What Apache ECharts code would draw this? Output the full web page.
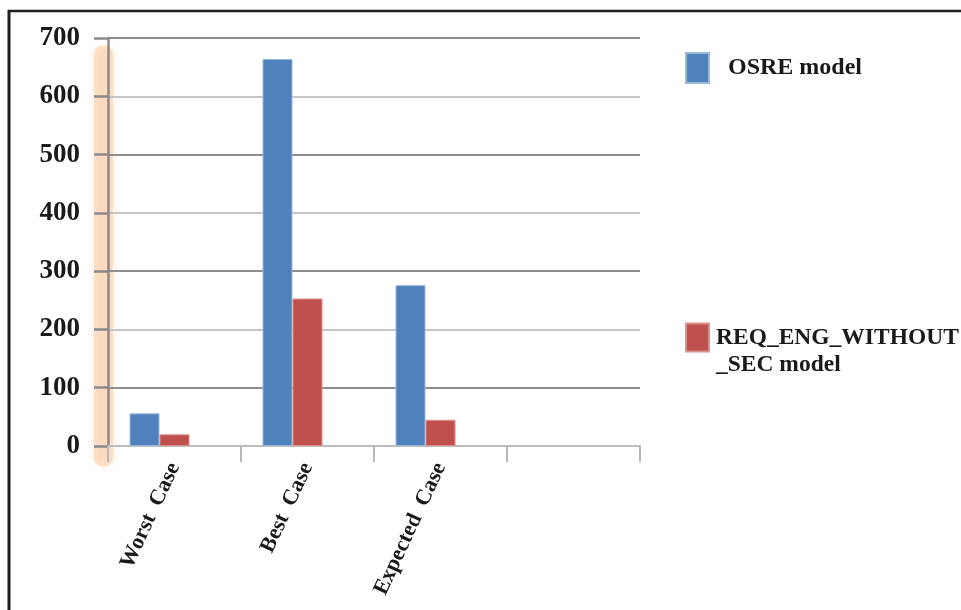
<!DOCTYPE html>
<html>
<head>
<meta charset="utf-8">
<script src="https://cdn.jsdelivr.net/npm/echarts@6/dist/echarts.min.js"></script>
<style>
html,body{margin:0;padding:0;background:#fff;}
#c{width:961px;height:610px;}
</style>
</head>
<body>
<div id="c"></div>
<script>
const categories = ['Worst  Case', 'Best  Case', 'Expected  Case', ''];
const seriesNames = ['OSRE model', 'REQ_ENG_WITHOUT\n_SEC model', 'Series3'];
const osreValues = [56, 664, 276, null];
const reqEngValues = [20, 253, 45, null];
const series3Values = [null, null, null, null];
const yTicks = [0, 100, 200, 300, 400, 500, 600, 700];

const FONT = 'Liberation Serif';
const chart = echarts.init(document.getElementById('c'));
chart.setOption({
  animation: false,
  backgroundColor: '#ffffff',
  textStyle: { fontFamily: FONT },
  graphic: [
    { type: 'rect', z: 0, silent: true,
      shape: { x: 94, y: 46, width: 19, height: 420, r: 8 },
      style: { fill: 'rgba(248,190,140,0.4)', shadowBlur: 8, shadowColor: 'rgba(248,180,120,0.6)' } },
    { type: 'line', z: 100, silent: true,
      shape: { x1: 8, y1: 11, x2: 961, y2: 11 },
      style: { stroke: '#1e1e1e', lineWidth: 2.5 } },
    { type: 'line', z: 100, silent: true,
      shape: { x1: 9, y1: 10, x2: 9, y2: 610 },
      style: { stroke: '#1e1e1e', lineWidth: 3 } }
  ],
  grid: { left: 108, right: 321, top: 38, bottom: 164, containLabel: false },
  legend: [
    { data: [seriesNames[0]], left: 685, top: 52, padding: 0, icon: 'rect',
      itemWidth: 23, itemHeight: 30, selectedMode: false,
      textStyle: { fontFamily: FONT, fontWeight: 'bold', fontSize: 24, color: '#1a1a1a', lineHeight: 27, padding: [0, 0, 0, 14] } },
    { data: [seriesNames[1]], left: 685, top: 297, padding: 0, icon: 'rect',
      itemWidth: 23, itemHeight: 28, selectedMode: false,
      formatter: function (n) { return '\n' + n; },
      textStyle: { fontFamily: FONT, fontWeight: 'bold', fontSize: 23.5, color: '#1a1a1a', lineHeight: 27, padding: [0, 0, 0, 2] } }
  ],
  xAxis: {
    type: 'category',
    data: categories,
    boundaryGap: true,
    axisLine: { lineStyle: { color: '#bdbdbd', width: 2 } },
    axisTick: { show: true, length: 16, lineStyle: { color: '#b8b8b8', width: 2 } },
    axisLabel: { rotate: 65, margin: 18, interval: 0, fontFamily: FONT, fontWeight: 'bold', fontStyle: 'normal', fontSize: 22, color: '#1a1a1a' },
    splitLine: { show: false }
  },
  yAxis: {
    type: 'value',
    min: 0, max: 700, interval: 100,
    axisLine: { show: true, lineStyle: { color: '#8a8a8a', width: 2.5 } },
    axisTick: { show: true, length: 14, lineStyle: { color: '#8a8a8a', width: 2.5 } },
    axisLabel: { margin: 28, fontFamily: FONT, fontWeight: 'bold', fontSize: 27, color: '#1a1a1a',
      formatter: function (v) { return yTicks.indexOf(v) >= 0 ? String(v) : ''; } },
    splitLine: { show: true, lineStyle: { color: ['#c6c6c6', '#8e8e8e'], width: 2 } }
  },
  series: [
    { name: seriesNames[0], type: 'bar', data: osreValues, barWidth: 30, barGap: '0%',
      itemStyle: { color: '#4f81bd', borderColor: '#9ab8dc', borderWidth: 1 } },
    { name: seriesNames[1], type: 'bar', data: reqEngValues, barWidth: 30, barGap: '0%',
      itemStyle: { color: '#c0504d', borderColor: '#dc8e8b', borderWidth: 1 } },
    { name: seriesNames[2], type: 'bar', data: series3Values, barWidth: 30, barGap: '0%',
      itemStyle: { color: '#9bbb59' } }
  ]
});
</script>
</body>
</html>
